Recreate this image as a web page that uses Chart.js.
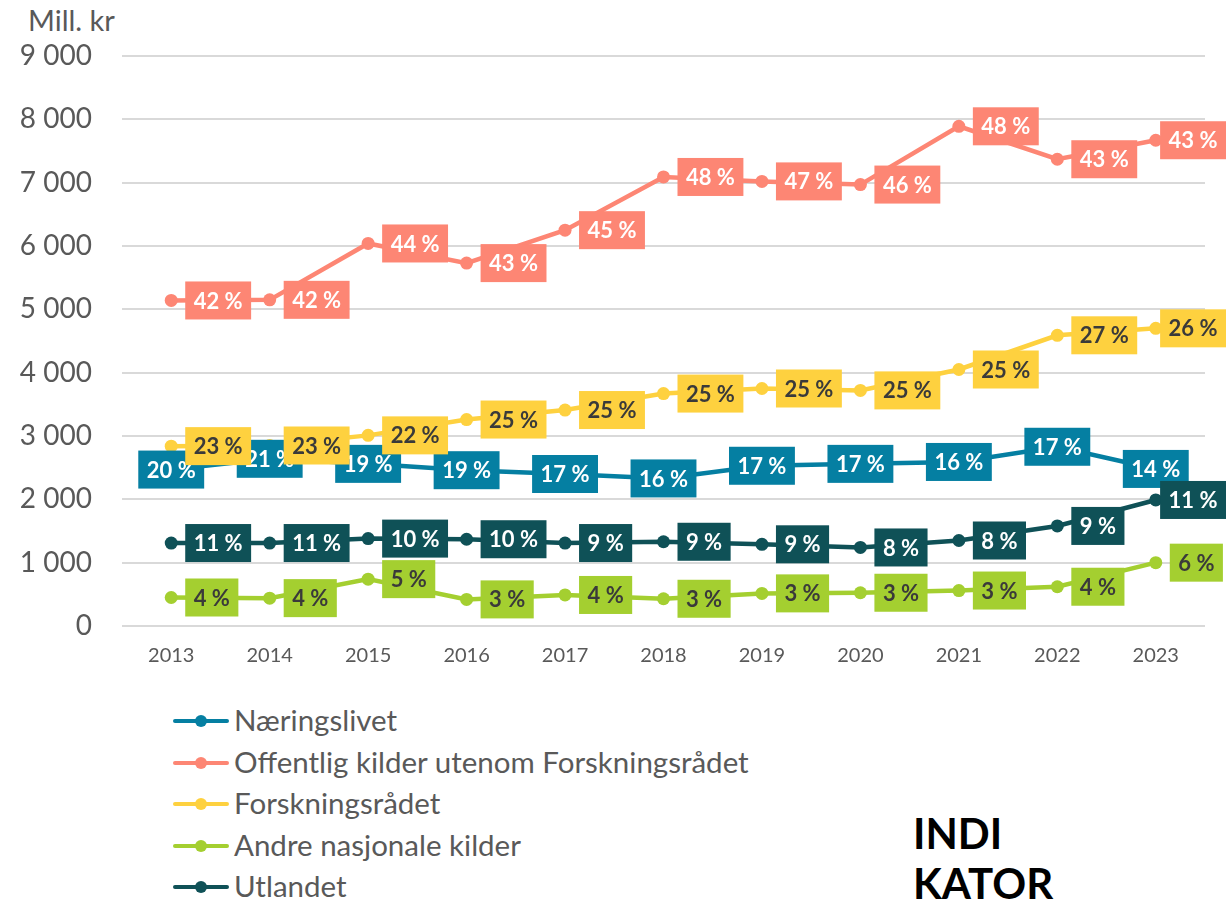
<!DOCTYPE html>
<html lang="no">
<head>
    <meta charset="UTF-8">
    <title>Mill. kr</title>
    <script src="https://cdn.jsdelivr.net/npm/chart.js"></script>
    <style>
        body { margin: 0; background: #fff; font-family: Lato, sans-serif; }
        #wrap { position: relative; width: 1226px; height: 901px; }
        #chartBox { position: absolute; left: 0; top: 0; width: 1226px; height: 690px; }
        #unit { position: absolute; left: 28px; top: 2px; font-size: 29px; color: #595959; }
        #legend { position: absolute; left: 173px; top: 699px; }
        .item { position: relative; height: 41.6px; font-size: 29.5px; color: #595959; }
        .item .line { position: absolute; left: 0; top: 20px; width: 56px; height: 4px; border-radius: 2px; }
        .item .dot { position: absolute; left: 22px; top: 16px; width: 12px; height: 12px; border-radius: 50%; }
        .item span { position: absolute; left: 61px; top: 3px; white-space: nowrap; }
        #brand { position: absolute; left: 913px; top: 808px; font-size: 42px; font-weight: bold; line-height: 50px; color: #000; }
    </style>
</head>
<body>
<div id="wrap">
    <div id="unit">Mill. kr</div>
    <div id="chartBox"><canvas id="fundingChart"></canvas></div>
    <div id="legend"></div>
    <div id="brand">INDI<br>KATOR</div>
</div>

<script>
    // Data (mill. kr) and the share labels (%)
    const years = ['2013', '2014', '2015', '2016', '2017', '2018', '2019', '2020', '2021', '2022', '2023'];
    const yTickLabels = ['0', '1 000', '2 000', '3 000', '4 000', '5 000', '6 000', '7 000', '8 000', '9 000'];

    const naeringslivet = [2470, 2640, 2560, 2460, 2400, 2330, 2530, 2560, 2590, 2830, 2480];
    const offentlig = [5140, 5150, 6040, 5730, 6250, 7090, 7020, 6970, 7890, 7370, 7670];
    const forskningsradet = [2840, 2850, 3010, 3260, 3410, 3670, 3750, 3720, 4050, 4590, 4700];
    const andre = [450, 440, 740, 420, 490, 430, 515, 525, 560, 620, 1000];
    const utlandet = [1310, 1310, 1380, 1370, 1310, 1330, 1290, 1240, 1350, 1580, 1990];

    const naeringslivetPct = [20, 21, 19, 19, 17, 16, 17, 17, 16, 17, 14];
    const offentligPct = [42, 42, 44, 43, 45, 48, 47, 46, 48, 43, 43];
    const forskningsradetPct = [23, 23, 22, 25, 25, 25, 25, 25, 25, 27, 26];
    const andrePct = [4, 4, 5, 3, 4, 3, 3, 3, 3, 4, 6];
    const utlandetPct = [11, 11, 10, 10, 9, 9, 9, 8, 8, 9, 11];

    const series = [
        { label: 'Næringslivet', data: naeringslivet, pct: naeringslivetPct, color: '#057fa2', text: '#ffffff', pos: 'center' },
        { label: 'Offentlig kilder utenom Forskningsrådet', data: offentlig, pct: offentligPct, color: '#fd8674', text: '#ffffff', pos: 'right' },
        { label: 'Forskningsrådet', data: forskningsradet, pct: forskningsradetPct, color: '#fed13f', text: '#3a3a3a', pos: 'right' },
        { label: 'Andre nasjonale kilder', data: andre, pct: andrePct, color: '#a4cf30', text: '#3a3a3a', pos: 'right' },
        { label: 'Utlandet', data: utlandet, pct: utlandetPct, color: '#0f5157', text: '#ffffff', pos: 'right' }
    ];

    // Draws the percentage boxes next to (or on) each point
    const pctLabels = {
        id: 'pctLabels',
        afterDatasetsDraw(chart) {
            const ctx = chart.ctx;
            ctx.save();
            ctx.font = 'bold 22px Lato';
            ctx.textAlign = 'center';
            ctx.textBaseline = 'middle';
            chart.data.datasets.forEach((ds, di) => {
                const meta = chart.getDatasetMeta(di);
                meta.data.forEach((pt, i) => {
                    const txt = ds.pct[i] + ' %';
                    const w = ctx.measureText(txt).width + 17;
                    const h = 38;
                    let x = ds.pos === 'center' ? pt.x - w / 2 : pt.x + 14;
                    x = Math.min(x, chart.width - w); // keep box inside the canvas
                    ctx.fillStyle = ds.borderColor;
                    ctx.fillRect(x, pt.y - h / 2, w, h);
                    ctx.fillStyle = ds.textColor;
                    ctx.fillText(txt, x + w / 2, pt.y + 1);
                });
            });
            ctx.restore();
        }
    };

    const ctx = document.getElementById('fundingChart').getContext('2d');
    const chart = new Chart(ctx, {
        type: 'line',
        data: {
            labels: years,
            datasets: series.map(s => ({
                label: s.label,
                data: s.data,
                pct: s.pct,
                pos: s.pos,
                textColor: s.text,
                borderColor: s.color,
                backgroundColor: s.color,
                pointBackgroundColor: s.color,
                pointBorderWidth: 0,
                pointRadius: 6.5,
                borderWidth: 4.5,
                tension: 0
            }))
        },
        options: {
            responsive: true,
            maintainAspectRatio: false,
            animation: false,
            layout: { padding: { left: 0, top: 56, right: 21, bottom: 22 } },
            plugins: {
                legend: { display: false },
                tooltip: { enabled: false }
            },
            scales: {
                x: {
                    offset: true,
                    grid: { display: false, drawTicks: false },
                    border: { display: false },
                    ticks: { color: '#595959', font: { family: 'Lato', size: 20 }, padding: 18 },
                    afterFit: scale => { scale.height = 42; }
                },
                y: {
                    min: 0,
                    max: 9000,
                    grid: { color: '#d9d9d9', lineWidth: 2, drawTicks: false },
                    border: { display: false },
                    ticks: {
                        stepSize: 1000,
                        padding: 30,
                        color: '#595959',
                        font: { family: 'Lato', size: 28 },
                        callback: v => yTickLabels[v / 1000]
                    },
                    afterFit: scale => { scale.width = 122; }
                }
            }
        },
        plugins: [pctLabels]
    });

    // Vertical legend below the chart
    const legend = document.getElementById('legend');
    series.forEach(s => {
        const row = document.createElement('div');
        row.className = 'item';
        row.innerHTML = '<div class="line" style="background:' + s.color + '"></div>' +
            '<div class="dot" style="background:' + s.color + '"></div>' +
            '<span>' + s.label + '</span>';
        legend.appendChild(row);
    });
</script>
</body>
</html>
